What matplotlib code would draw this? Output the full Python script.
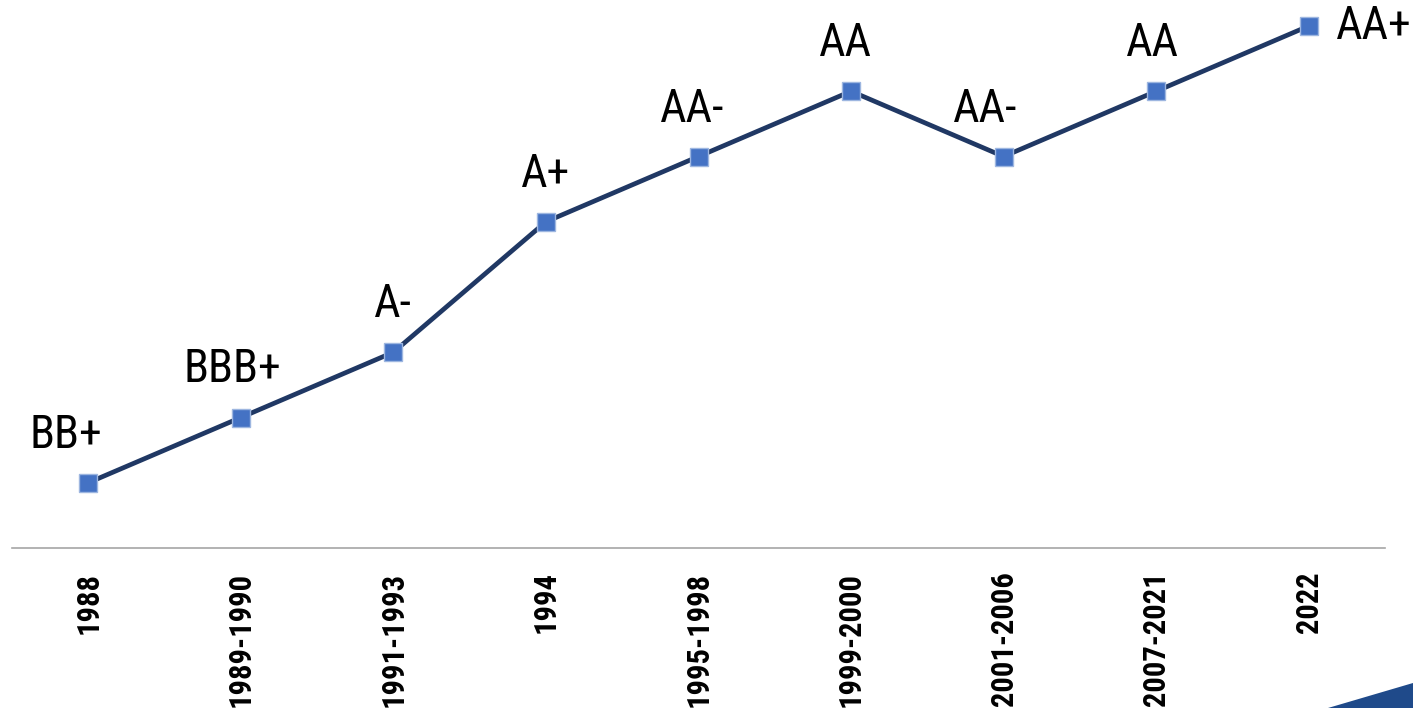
import matplotlib
matplotlib.use("Agg")
import matplotlib.pyplot as plt
from matplotlib.patches import Polygon

# Historique de la notation
periodes = ["1988", "1989-1990", "1991-1993", "1994", "1995-1998",
            "1999-2000", "2001-2006", "2007-2021", "2022"]
notes = ["BB+", "BBB+", "A-", "A+", "AA-", "AA", "AA-", "AA", "AA+"]
niveaux = [1, 2, 3, 5, 6, 7, 6, 7, 8]

# Decalage des etiquettes (pixels)
decalages = [(-22, 35), (-8, 35), (0, 35), (0, 35), (-6, 35),
             (-6, 35), (-18, 35), (-4, 35), (27, 0)]

police = ["Roboto Condensed", "DejaVu Sans"]

W, H = 1413, 708
fig = plt.figure(figsize=(W / 100, H / 100), dpi=100)
ax = fig.add_axes([12 / W, (H - 548) / H, 1373 / W, 548 / H])

x = list(range(len(periodes)))
ax.plot(x, niveaux, color="#203864", linewidth=3.4, zorder=2)
ax.plot(x, niveaux, linestyle="none", marker="s", markersize=13,
        markerfacecolor="#4472C4", markeredgecolor="#9DB6E0",
        markeredgewidth=1, zorder=3)

for i, (note, (dx, dy)) in enumerate(zip(notes, decalages)):
    if dy == 0:
        ax.annotate(note, (x[i], niveaux[i]), xytext=(dx * 0.72, 0),
                    textcoords="offset points", ha="left", va="center",
                    fontsize=33, family=police, color="black",
                    annotation_clip=False)
    else:
        ax.annotate(note, (x[i], niveaux[i]), xytext=(dx * 0.72, dy * 0.72),
                    textcoords="offset points", ha="center", va="baseline",
                    fontsize=33, family=police, color="black",
                    annotation_clip=False)

ax.set_xlim(-0.5, len(periodes) - 0.5)
ax.set_ylim(0, 548 / 65.25)
ax.set_xticks(x)
ax.set_xticklabels(periodes, rotation=90, fontsize=22, fontweight="bold",
                   family=police, va="top")
ax.tick_params(axis="x", length=0, pad=17)
ax.set_yticks([])
for cote in ["top", "left", "right"]:
    ax.spines[cote].set_visible(False)
ax.spines["bottom"].set_color("#A6A6A6")
ax.spines["bottom"].set_linewidth(1.2)
ax.patch.set_alpha(0)

# Bandeau decoratif en bas a droite
coin = Polygon([(1328 / W, 0), (1413 / W, 25 / H), (1413 / W, 0)],
               closed=True, transform=fig.transFigure,
               facecolor="#1F4A8A", edgecolor="none")
fig.patches.append(coin)

fig.savefig("out.png", dpi=100)
